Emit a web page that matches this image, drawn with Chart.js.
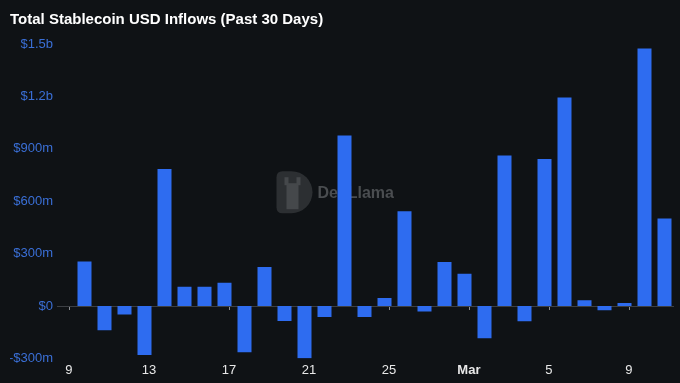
<!DOCTYPE html>
<html>
<head>
<meta charset="utf-8">
<script src="https://cdn.jsdelivr.net/npm/chart.js@4.4.1/dist/chart.umd.min.js"></script>
<style>
  html, body { margin: 0; padding: 0; background: #0f1215; }
  #wrap { width: 680px; height: 383px; position: relative; }
</style>
</head>
<body>
<div id="wrap"><canvas id="c"></canvas></div>
<script>
// ---- data ----
const days = ['Feb 9','Feb 10','Feb 11','Feb 12','Feb 13','Feb 14','Feb 15','Feb 16','Feb 17','Feb 18',
  'Feb 19','Feb 20','Feb 21','Feb 22','Feb 23','Feb 24','Feb 25','Feb 26','Feb 27','Feb 28',
  'Mar 1','Mar 2','Mar 3','Mar 4','Mar 5','Mar 6','Mar 7','Mar 8','Mar 9','Mar 10'];
const inflowsMillions = [255, -139, -48, -280, 785, 110, 110, 133, -265, 223,
  -86, -299, -63, 976, -63, 46, 543, -32, 252, 185,
  -185, 862, -88, 842, 1193, 33, -25, 17, 1474, 501];
const xTickLabels = ['9', '13', '17', '21', '25', 'Mar', '5', '9'];
const xTickDayIndex = [0, 4, 8, 12, 16, 20, 24, 28];
const yTickLabels = ['-$300m', '$0', '$300m', '$600m', '$900m', '$1.2b', '$1.5b'];
const yTickValues = [-300e6, 0, 300e6, 600e6, 900e6, 1200e6, 1500e6];

const TICK_SHIFT = -0.78; // date ticks sit slightly left of bar centres

const points = inflowsMillions.map((v, i) => ({ x: i, y: v * 1e6 }));

const zeroTicksPlugin = {
  id: 'zeroTicks',
  beforeDatasetsDraw(chart) {
    const { ctx, scales: { x, y }, chartArea } = chart;
    const y0 = y.getPixelForValue(0);
    // watermark
    const cx = (chartArea.left + chartArea.right) / 2;
    const cy = (chartArea.top + chartArea.bottom) / 2;
    ctx.save();
    const lx = cx - 89, ly = cy - 30, lw = 36, lh = 42;
    ctx.fillStyle = '#2c2f32';
    ctx.beginPath();
    ctx.moveTo(lx + 6, ly);
    ctx.lineTo(lx + lw - lh / 2, ly);
    ctx.arc(lx + lw - lh / 2, ly + lh / 2, lh / 2, -Math.PI / 2, Math.PI / 2);
    ctx.lineTo(lx + 6, ly + lh);
    ctx.quadraticCurveTo(lx, ly + lh, lx, ly + lh - 6);
    ctx.lineTo(lx, ly + 6);
    ctx.quadraticCurveTo(lx, ly, lx + 6, ly);
    ctx.fill();
    ctx.fillStyle = '#45484b';
    ctx.fillRect(lx + 10, ly + 12, 12, 26);
    ctx.fillRect(lx + 8, ly + 6, 4, 8);
    ctx.fillRect(lx + 20, ly + 6, 4, 8);
    ctx.fillStyle = '#4a4d50';
    ctx.font = 'bold 16px "Liberation Sans", Arial, sans-serif';
    ctx.textBaseline = 'middle';
    ctx.fillText('DefiLlama', lx + lw + 5, ly + lh / 2 + 1);
    ctx.restore();

    // zero line + tick marks
    ctx.save();
    ctx.strokeStyle = '#3c3f44';
    ctx.lineWidth = 1;
    ctx.beginPath();
    ctx.moveTo(chartArea.left, Math.round(y0) + 0.5);
    ctx.lineTo(chartArea.right, Math.round(y0) + 0.5);
    ctx.stroke();
    ctx.strokeStyle = '#8a8d92';
    x.ticks.forEach(t => {
      const px = Math.round(x.getPixelForValue(t.value)) + 0.5;
      ctx.beginPath();
      ctx.moveTo(px, Math.round(y0) + 1);
      ctx.lineTo(px, Math.round(y0) + 4);
      ctx.stroke();
    });
    ctx.restore();
  }
};

new Chart(document.getElementById('c'), {
  type: 'bar',
  data: {
    datasets: [{
      data: points,
      backgroundColor: '#2e6cf0',
      borderWidth: 0,
      barPercentage: 0.7,
      categoryPercentage: 1.0
    }]
  },
  options: {
    responsive: true,
    maintainAspectRatio: false,
    animation: false,
    layout: { padding: { left: 10, right: 6, top: 0, bottom: 1 } },
    plugins: {
      legend: { display: false },
      tooltip: { enabled: false },
      title: {
        display: true,
        text: 'Total Stablecoin USD Inflows (Past 30 Days)',
        align: 'start',
        color: '#ffffff',
        font: { family: '"Liberation Sans", Arial, sans-serif', size: 15, weight: 'bold' },
        padding: { top: 11, bottom: 15 }
      }
    },
    scales: {
      x: {
        type: 'linear',
        min: -1.375,
        max: 29.475,
        offset: false,
        grid: { display: false, drawTicks: false },
        border: { display: false },
        afterBuildTicks(scale) {
          scale.ticks = xTickDayIndex.map(d => ({ value: d + TICK_SHIFT }));
        },
        ticks: {
          autoSkip: false,
          maxRotation: 0,
          padding: 4,
          color: '#e8e8e8',
          font: (ctx) => ({
            family: '"Liberation Sans", Arial, sans-serif',
            size: 13,
            weight: (ctx.index === 5) ? 'bold' : 'normal'
          }),
          callback: (v, i) => xTickLabels[i]
        }
      },
      y: {
        min: -300e6,
        max: 1500e6,
        grid: { display: false, drawTicks: false },
        border: { display: false },
        afterFit(scale) { scale.width = 47; },
        afterBuildTicks(scale) {
          scale.ticks = yTickValues.map(v => ({ value: v }));
        },
        ticks: {
          padding: 4,
          color: '#3a6fd6',
          font: { family: '"Liberation Sans", Arial, sans-serif', size: 13 },
          callback: (v, i) => yTickLabels[i]
        }
      }
    }
  },
  plugins: [zeroTicksPlugin]
});
</script>
</body>
</html>
